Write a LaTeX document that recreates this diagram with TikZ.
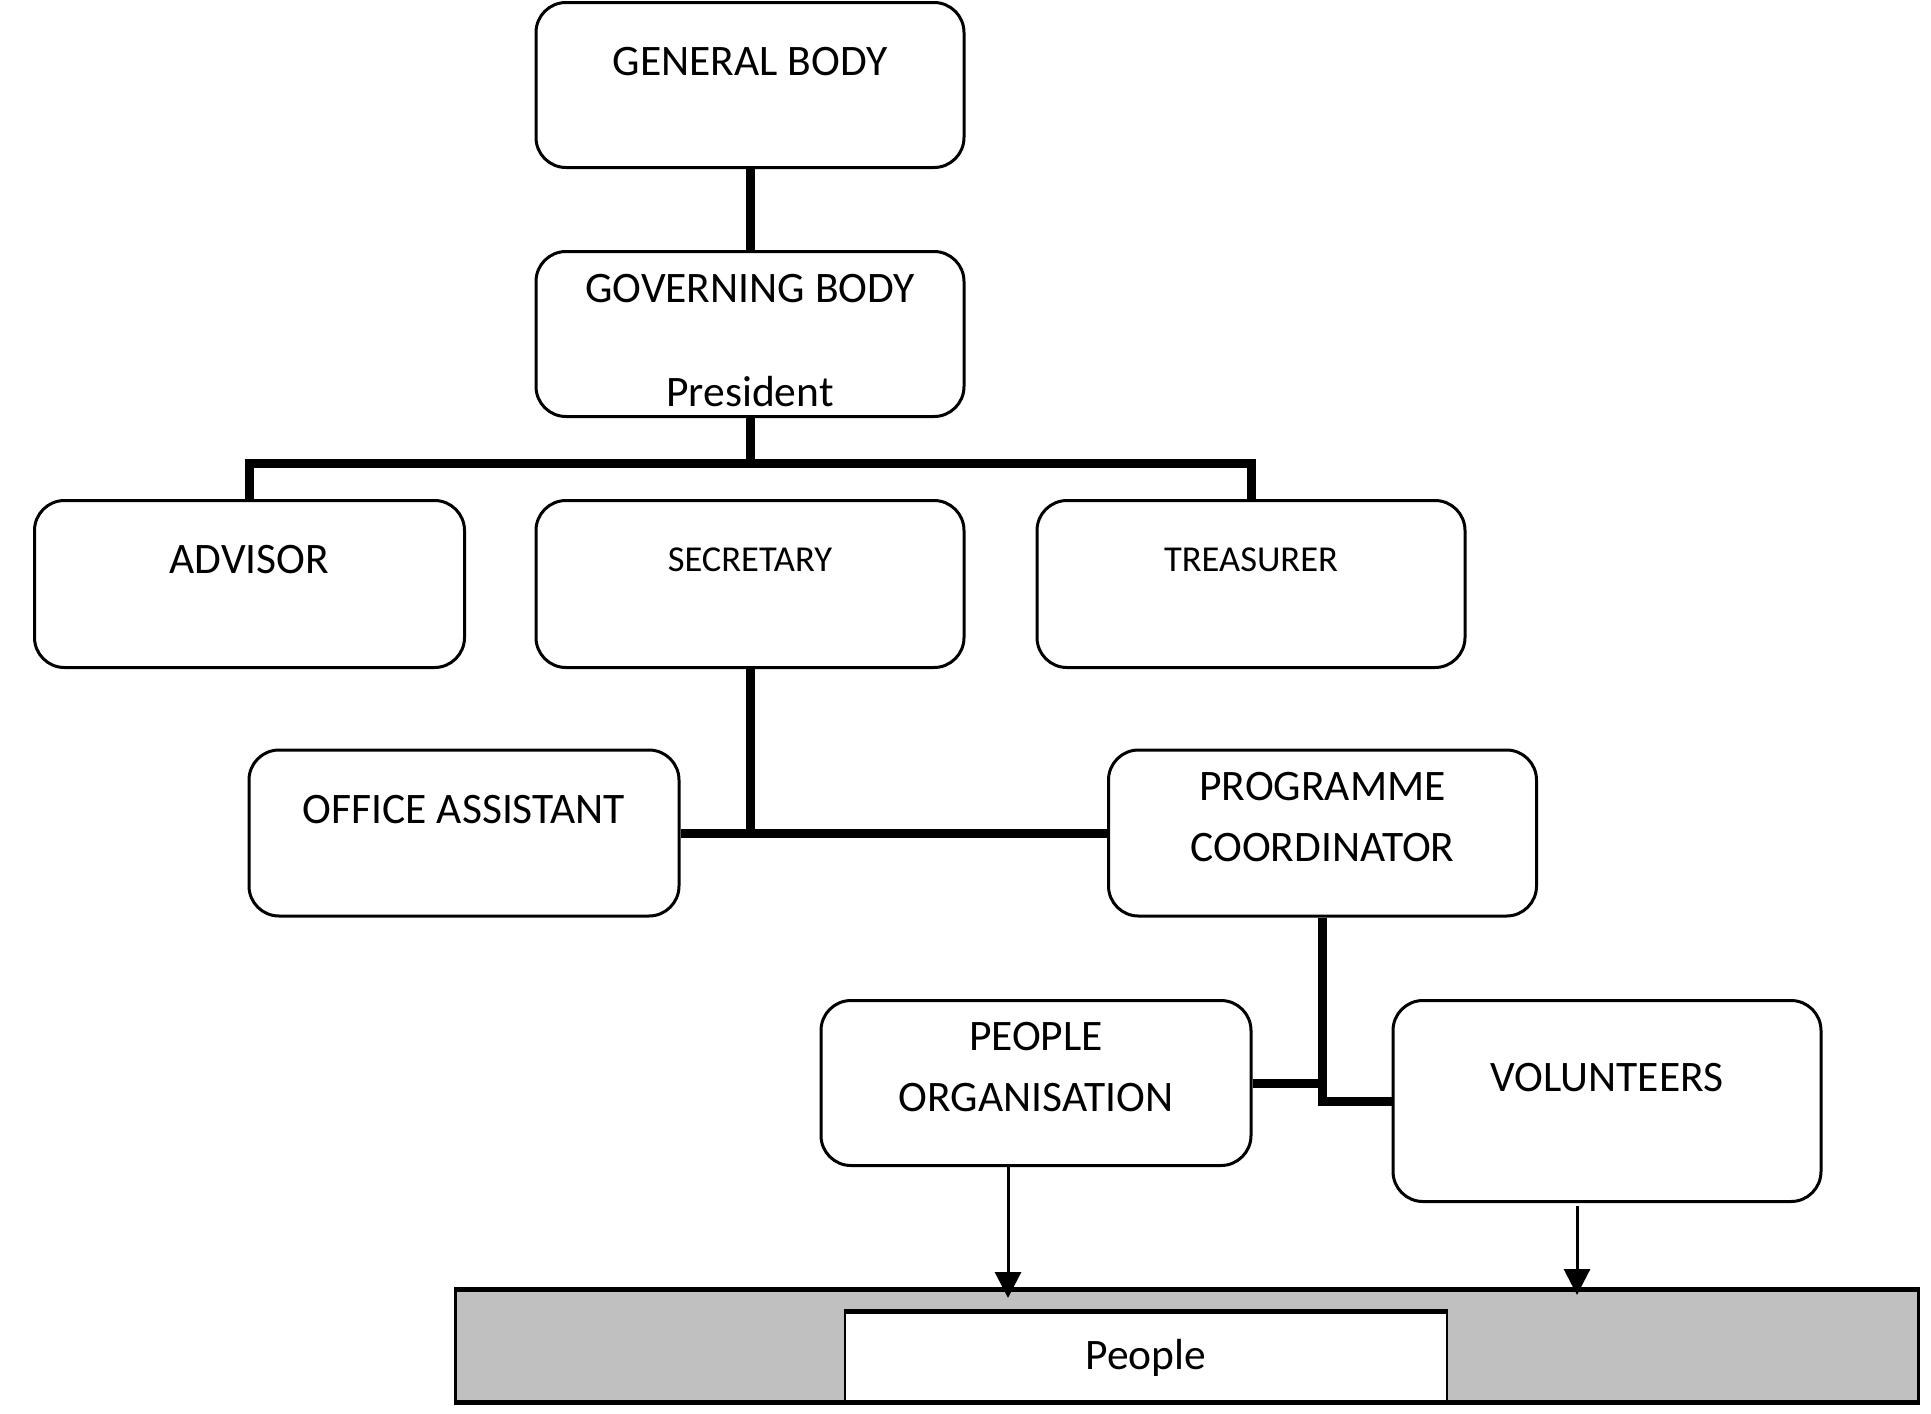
\documentclass[tikz,border=0pt]{standalone}
\usepackage{fontspec}
\setmainfont{Carlito}
\usetikzlibrary{arrows.meta}
\definecolor{bandgray}{HTML}{C0C0C0}
\tikzset{
  box/.style={draw, line width=3pt, rounded corners=30pt, fill=white, inner sep=0pt},
  conn/.style={line width=9pt},
  arr/.style={line width=3pt, -{Triangle[length=26pt,width=26pt]}},
  lbl/.style={font=\fontsize{43.5}{50}\selectfont, inner sep=0pt, anchor=center},
  slbl/.style={font=\fontsize{36.5}{42}\selectfont, inner sep=0pt, anchor=center},
}
\begin{document}
\begin{tikzpicture}[x=1pt,y=-1pt]
\useasboundingbox (0,0) rectangle (1931,1414);
% boxes
\node[box, minimum width=428, minimum height=165] (gen) at (750,85) {};
\node[box, minimum width=428, minimum height=165] (gov) at (750,334) {};
\node[box, minimum width=430, minimum height=167] (adv) at (249.5,584) {};
\node[box, minimum width=428, minimum height=167] (sec) at (750,584) {};
\node[box, minimum width=428, minimum height=167] (tre) at (1251,584) {};
\node[box, minimum width=430, minimum height=166] (off) at (464,833) {};
\node[box, minimum width=428, minimum height=166] (pc) at (1322.5,833) {};
\node[box, minimum width=430, minimum height=165] (po) at (1036,1083) {};
\node[box, minimum width=428, minimum height=201] (vol) at (1607,1101) {};
% band
\node[draw, line width=2.5pt, fill=bandgray, minimum width=1463, minimum height=111, inner sep=0pt] (band) at (1187,1346) {};
\node[draw, line width=2pt, fill=white, minimum width=602, minimum height=89, inner sep=0pt] (ppl) at (1146,1357) {};
\draw[line width=5pt] (ppl.north west) -- (ppl.north east);
\draw[line width=4pt] (band.north west) -- (band.north east);
\draw[line width=5pt] (band.south west) -- (band.south east);
% labels
\node[lbl] (tgen) at (750,62) {GENERAL BODY};
\node[lbl] (tgov) at (750,289) {GOVERNING BODY};
\node[lbl] (tpres) at (750,392) {President};
\node[lbl] (tadv) at (249.5,560) {ADVISOR};
\node[slbl] (tsec) at (750,560) {SECRETARY};
\node[slbl] (ttre) at (1251,560) {TREASURER};
\node[lbl] (toff) at (464,810) {OFFICE ASSISTANT};
\node[lbl] (tpc1) at (1322.5,787) {PROGRAMME};
\node[lbl] (tpc2) at (1322.5,848) {COORDINATOR};
\node[lbl] (tpo1) at (1036,1037) {PEOPLE};
\node[lbl] (tpo2) at (1036,1098) {ORGANISATION};
\node[lbl] (tvol) at (1607,1078) {VOLUNTEERS};
\node[lbl] (tppl) at (1146,1358) {People};
% connector coordinates
\coordinate (busc) at (750,463);
\coordinate (secj) at (750,834);
\coordinate (pcj) at (1322.5,1083);
\coordinate (pcv) at (1322.5,1101);
\coordinate (poa) at (1008,1165);
\coordinate (poe) at (1008,1298);
\coordinate (vola) at (1577,1206);
\coordinate (vole) at (1577,1295);
% connectors
\draw[conn] (gen.south) -- (gov.north);
\draw[conn] (gov.south) -- (busc);
\draw[conn] (adv.north) |- (busc) -| (tre.north);
\draw[conn] (sec.south) -- (secj);
\draw[conn] (off.east) -- (pc.west);
\draw[conn] (pc.south) -- (pcv) -- (vol.west);
\draw[conn] (po.east) -- (pcj);
\draw[arr] (poa) -- (poe);
\draw[arr] (vola) -- (vole);
\end{tikzpicture}
\end{document}
